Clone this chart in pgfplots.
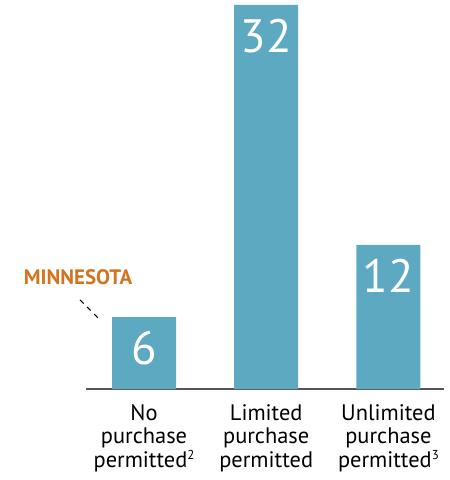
\documentclass[border=0pt]{standalone}
\usepackage{pgfplots}
\pgfplotsset{compat=1.18}
\usepackage{fontspec}
\setmainfont{PT Sans}
\definecolor{barblue}{HTML}{5DA9C1}
\definecolor{mnorange}{HTML}{D4731F}
\definecolor{axisgray}{HTML}{555555}
\newcommand{\fnsup}[1]{\raisebox{0.35em}{\fontsize{13}{13}\selectfont #1}}
\begin{document}
\begin{tikzpicture}
\useasboundingbox (-86bp,-91bp) rectangle (364bp,389bp);
\begin{axis}[
    at={(0,0)}, anchor=south west,
    scale only axis,
    width=358bp, height=384bp,
    xmin=-0.475, xmax=2.455,
    ymin=0, ymax=32,
    axis x line*=bottom,
    axis y line=none,
    x axis line style={-, draw=axisgray, line width=1.6bp},
    xtick=data,
    xticklabels={No\\purchase\\permitted\fnsup{2},
                 Limited\\purchase\\permitted,
                 Unlimited\\purchase\\permitted\fnsup{3}},
    xticklabel style={align=center, font=\fontsize{22.5}{23.5}\selectfont, text=black, yshift=-12bp},
    major tick length=0pt,
    tick style={draw=none},
    clip=false,
    point meta=explicit symbolic,
    nodes near coords,
    every node near coord/.append style={anchor=north, yshift=-11bp, text=white,
        font=\fontsize{47}{47}\selectfont},
]
\addplot[ybar, bar width=64bp, fill=barblue, draw=none] coordinates {
    (0,6) [6]
    (1,32) [32]
    (2,12) [12]
};
\node[text=mnorange, font=\fontsize{21}{21}\selectfont\bfseries] at (axis cs:-0.54,9.3) {MINNESOTA};
\draw[black, line width=1bp, dash pattern=on 5bp off 5bp] (axis cs:-0.524,7.42) -- (axis cs:-0.36,5.75);
\end{axis}
\end{tikzpicture}
\end{document}
